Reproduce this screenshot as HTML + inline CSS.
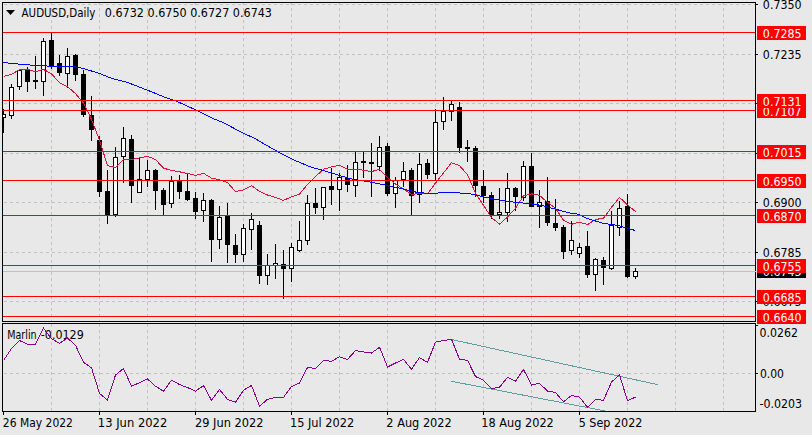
<!DOCTYPE html>
<html><head><meta charset="utf-8"><title>AUDUSD,Daily</title>
<style>
html,body{margin:0;padding:0;background:#e8e8e8;}
body{width:812px;height:435px;overflow:hidden;}
</style></head>
<body>
<svg width="812" height="435" viewBox="0 0 812 435" style="display:block" font-family="'DejaVu Sans', 'Liberation Sans', sans-serif" font-size="12px">
<rect x="0" y="0" width="812" height="435" fill="#e8e8e8"/>
<defs><clipPath id="cm"><rect x="3" y="3" width="752" height="318"/></clipPath><clipPath id="cs"><rect x="3" y="324" width="752" height="87"/></clipPath></defs>
<g shape-rendering="crispEdges" stroke="#c2c2c2" stroke-width="1" stroke-dasharray="3 3" fill="none">
<line x1="4" y1="4.5" x2="755" y2="4.5"/>
<line x1="4" y1="54.5" x2="755" y2="54.5"/>
<line x1="4" y1="103.5" x2="755" y2="103.5"/>
<line x1="4" y1="153.5" x2="755" y2="153.5"/>
<line x1="4" y1="202.5" x2="755" y2="202.5"/>
<line x1="4" y1="252.5" x2="755" y2="252.5"/>
<line x1="4" y1="301.5" x2="755" y2="301.5"/>
<line x1="51.5" y1="2" x2="51.5" y2="321"/>
<line x1="99.5" y1="2" x2="99.5" y2="321"/>
<line x1="147.5" y1="2" x2="147.5" y2="321"/>
<line x1="195.5" y1="2" x2="195.5" y2="321"/>
<line x1="243.5" y1="2" x2="243.5" y2="321"/>
<line x1="291.5" y1="2" x2="291.5" y2="321"/>
<line x1="339.5" y1="2" x2="339.5" y2="321"/>
<line x1="387.5" y1="2" x2="387.5" y2="321"/>
<line x1="435.5" y1="2" x2="435.5" y2="321"/>
<line x1="483.5" y1="2" x2="483.5" y2="321"/>
<line x1="531.5" y1="2" x2="531.5" y2="321"/>
<line x1="579.5" y1="2" x2="579.5" y2="321"/>
<line x1="627.5" y1="2" x2="627.5" y2="321"/>
<line x1="675.5" y1="2" x2="675.5" y2="321"/>
<line x1="723.5" y1="2" x2="723.5" y2="321"/>
<line x1="4" y1="373.5" x2="755" y2="373.5"/>
<line x1="51.5" y1="324" x2="51.5" y2="411"/>
<line x1="99.5" y1="324" x2="99.5" y2="411"/>
<line x1="147.5" y1="324" x2="147.5" y2="411"/>
<line x1="195.5" y1="324" x2="195.5" y2="411"/>
<line x1="243.5" y1="324" x2="243.5" y2="411"/>
<line x1="291.5" y1="324" x2="291.5" y2="411"/>
<line x1="339.5" y1="324" x2="339.5" y2="411"/>
<line x1="387.5" y1="324" x2="387.5" y2="411"/>
<line x1="435.5" y1="324" x2="435.5" y2="411"/>
<line x1="483.5" y1="324" x2="483.5" y2="411"/>
<line x1="531.5" y1="324" x2="531.5" y2="411"/>
<line x1="579.5" y1="324" x2="579.5" y2="411"/>
<line x1="627.5" y1="324" x2="627.5" y2="411"/>
<line x1="675.5" y1="324" x2="675.5" y2="411"/>
<line x1="723.5" y1="324" x2="723.5" y2="411"/>
</g>
<rect x="3" y="271" width="752" height="1" fill="#c0c0c0"/>
<g clip-path="url(#cm)" shape-rendering="crispEdges">
<rect x="3" y="109" width="1" height="24" fill="#000"/>
<rect x="1" y="114" width="5" height="4" fill="#000"/>
<rect x="2" y="115" width="3" height="2" fill="#fff"/>
<rect x="11" y="84" width="1" height="35" fill="#000"/>
<rect x="9" y="87" width="5" height="29" fill="#000"/>
<rect x="10" y="88" width="3" height="27" fill="#fff"/>
<rect x="19" y="69" width="1" height="21" fill="#000"/>
<rect x="17" y="70" width="5" height="17" fill="#000"/>
<rect x="18" y="71" width="3" height="15" fill="#fff"/>
<rect x="27" y="67" width="1" height="25" fill="#000"/>
<rect x="25" y="70" width="5" height="12" fill="#000"/>
<rect x="35" y="56" width="1" height="33" fill="#000"/>
<rect x="33" y="80" width="5" height="2" fill="#000"/>
<rect x="43" y="38" width="1" height="58" fill="#000"/>
<rect x="41" y="41" width="5" height="41" fill="#000"/>
<rect x="42" y="42" width="3" height="39" fill="#fff"/>
<rect x="51" y="33" width="1" height="36" fill="#000"/>
<rect x="49" y="40" width="5" height="27" fill="#000"/>
<rect x="59" y="55" width="1" height="21" fill="#000"/>
<rect x="57" y="63" width="5" height="10" fill="#000"/>
<rect x="67" y="48" width="1" height="40" fill="#000"/>
<rect x="65" y="56" width="5" height="18" fill="#000"/>
<rect x="66" y="57" width="3" height="16" fill="#fff"/>
<rect x="75" y="54" width="1" height="27" fill="#000"/>
<rect x="73" y="55" width="5" height="20" fill="#000"/>
<rect x="83" y="70" width="1" height="47" fill="#000"/>
<rect x="81" y="74" width="5" height="41" fill="#000"/>
<rect x="91" y="96" width="1" height="45" fill="#000"/>
<rect x="89" y="115" width="5" height="15" fill="#000"/>
<rect x="99" y="136" width="1" height="61" fill="#000"/>
<rect x="97" y="140" width="5" height="52" fill="#000"/>
<rect x="107" y="170" width="1" height="54" fill="#000"/>
<rect x="105" y="191" width="5" height="24" fill="#000"/>
<rect x="115" y="147" width="1" height="70" fill="#000"/>
<rect x="113" y="157" width="5" height="58" fill="#000"/>
<rect x="114" y="158" width="3" height="56" fill="#fff"/>
<rect x="123" y="127" width="1" height="56" fill="#000"/>
<rect x="121" y="138" width="5" height="19" fill="#000"/>
<rect x="122" y="139" width="3" height="17" fill="#fff"/>
<rect x="131" y="135" width="1" height="68" fill="#000"/>
<rect x="129" y="139" width="5" height="47" fill="#000"/>
<rect x="139" y="158" width="1" height="35" fill="#000"/>
<rect x="137" y="179" width="5" height="14" fill="#000"/>
<rect x="138" y="180" width="3" height="12" fill="#fff"/>
<rect x="147" y="160" width="1" height="27" fill="#000"/>
<rect x="145" y="170" width="5" height="10" fill="#000"/>
<rect x="146" y="171" width="3" height="8" fill="#fff"/>
<rect x="155" y="169" width="1" height="41" fill="#000"/>
<rect x="153" y="170" width="5" height="21" fill="#000"/>
<rect x="163" y="188" width="1" height="28" fill="#000"/>
<rect x="161" y="190" width="5" height="15" fill="#000"/>
<rect x="171" y="176" width="1" height="32" fill="#000"/>
<rect x="169" y="181" width="5" height="23" fill="#000"/>
<rect x="170" y="182" width="3" height="21" fill="#fff"/>
<rect x="179" y="175" width="1" height="24" fill="#000"/>
<rect x="177" y="181" width="5" height="11" fill="#000"/>
<rect x="187" y="174" width="1" height="27" fill="#000"/>
<rect x="185" y="191" width="5" height="9" fill="#000"/>
<rect x="195" y="192" width="1" height="27" fill="#000"/>
<rect x="193" y="198" width="5" height="14" fill="#000"/>
<rect x="203" y="193" width="1" height="29" fill="#000"/>
<rect x="201" y="200" width="5" height="11" fill="#000"/>
<rect x="202" y="201" width="3" height="9" fill="#fff"/>
<rect x="211" y="199" width="1" height="63" fill="#000"/>
<rect x="209" y="200" width="5" height="40" fill="#000"/>
<rect x="219" y="206" width="1" height="43" fill="#000"/>
<rect x="217" y="217" width="5" height="23" fill="#000"/>
<rect x="218" y="218" width="3" height="21" fill="#fff"/>
<rect x="227" y="203" width="1" height="60" fill="#000"/>
<rect x="225" y="216" width="5" height="29" fill="#000"/>
<rect x="235" y="234" width="1" height="29" fill="#000"/>
<rect x="233" y="245" width="5" height="10" fill="#000"/>
<rect x="243" y="224" width="1" height="38" fill="#000"/>
<rect x="241" y="228" width="5" height="27" fill="#000"/>
<rect x="242" y="229" width="3" height="25" fill="#fff"/>
<rect x="251" y="213" width="1" height="37" fill="#000"/>
<rect x="249" y="219" width="5" height="11" fill="#000"/>
<rect x="250" y="220" width="3" height="9" fill="#fff"/>
<rect x="259" y="221" width="1" height="63" fill="#000"/>
<rect x="257" y="225" width="5" height="51" fill="#000"/>
<rect x="267" y="254" width="1" height="31" fill="#000"/>
<rect x="265" y="265" width="5" height="11" fill="#000"/>
<rect x="266" y="266" width="3" height="9" fill="#fff"/>
<rect x="275" y="244" width="1" height="35" fill="#000"/>
<rect x="273" y="263" width="5" height="3" fill="#000"/>
<rect x="274" y="264" width="3" height="1" fill="#fff"/>
<rect x="283" y="250" width="1" height="49" fill="#000"/>
<rect x="281" y="264" width="5" height="5" fill="#000"/>
<rect x="291" y="243" width="1" height="39" fill="#000"/>
<rect x="289" y="247" width="5" height="22" fill="#000"/>
<rect x="290" y="248" width="3" height="20" fill="#fff"/>
<rect x="299" y="221" width="1" height="31" fill="#000"/>
<rect x="297" y="240" width="5" height="11" fill="#000"/>
<rect x="298" y="241" width="3" height="9" fill="#fff"/>
<rect x="307" y="195" width="1" height="50" fill="#000"/>
<rect x="305" y="203" width="5" height="38" fill="#000"/>
<rect x="306" y="204" width="3" height="36" fill="#fff"/>
<rect x="315" y="188" width="1" height="26" fill="#000"/>
<rect x="313" y="203" width="5" height="5" fill="#000"/>
<rect x="323" y="187" width="1" height="33" fill="#000"/>
<rect x="321" y="187" width="5" height="21" fill="#000"/>
<rect x="322" y="188" width="3" height="19" fill="#fff"/>
<rect x="331" y="168" width="1" height="37" fill="#000"/>
<rect x="329" y="186" width="5" height="4" fill="#000"/>
<rect x="339" y="173" width="1" height="38" fill="#000"/>
<rect x="337" y="177" width="5" height="13" fill="#000"/>
<rect x="338" y="178" width="3" height="11" fill="#fff"/>
<rect x="347" y="165" width="1" height="27" fill="#000"/>
<rect x="345" y="178" width="5" height="7" fill="#000"/>
<rect x="355" y="152" width="1" height="45" fill="#000"/>
<rect x="353" y="162" width="5" height="24" fill="#000"/>
<rect x="354" y="163" width="3" height="22" fill="#fff"/>
<rect x="363" y="152" width="1" height="26" fill="#000"/>
<rect x="361" y="161" width="5" height="2" fill="#000"/>
<rect x="371" y="143" width="1" height="54" fill="#000"/>
<rect x="369" y="162" width="5" height="2" fill="#000"/>
<rect x="379" y="136" width="1" height="35" fill="#000"/>
<rect x="377" y="147" width="5" height="20" fill="#000"/>
<rect x="378" y="148" width="3" height="18" fill="#fff"/>
<rect x="387" y="143" width="1" height="53" fill="#000"/>
<rect x="385" y="146" width="5" height="48" fill="#000"/>
<rect x="395" y="177" width="1" height="31" fill="#000"/>
<rect x="393" y="180" width="5" height="14" fill="#000"/>
<rect x="394" y="181" width="3" height="12" fill="#fff"/>
<rect x="403" y="162" width="1" height="25" fill="#000"/>
<rect x="401" y="171" width="5" height="9" fill="#000"/>
<rect x="402" y="172" width="3" height="7" fill="#fff"/>
<rect x="411" y="168" width="1" height="47" fill="#000"/>
<rect x="409" y="170" width="5" height="26" fill="#000"/>
<rect x="419" y="153" width="1" height="50" fill="#000"/>
<rect x="417" y="164" width="5" height="31" fill="#000"/>
<rect x="418" y="165" width="3" height="29" fill="#fff"/>
<rect x="427" y="159" width="1" height="20" fill="#000"/>
<rect x="425" y="163" width="5" height="12" fill="#000"/>
<rect x="435" y="109" width="1" height="72" fill="#000"/>
<rect x="433" y="122" width="5" height="52" fill="#000"/>
<rect x="434" y="123" width="3" height="50" fill="#fff"/>
<rect x="443" y="97" width="1" height="33" fill="#000"/>
<rect x="441" y="111" width="5" height="11" fill="#000"/>
<rect x="442" y="112" width="3" height="9" fill="#fff"/>
<rect x="451" y="101" width="1" height="20" fill="#000"/>
<rect x="449" y="104" width="5" height="8" fill="#000"/>
<rect x="450" y="105" width="3" height="6" fill="#fff"/>
<rect x="459" y="102" width="1" height="51" fill="#000"/>
<rect x="457" y="107" width="5" height="41" fill="#000"/>
<rect x="467" y="140" width="1" height="22" fill="#000"/>
<rect x="465" y="147" width="5" height="2" fill="#000"/>
<rect x="475" y="146" width="1" height="51" fill="#000"/>
<rect x="473" y="148" width="5" height="38" fill="#000"/>
<rect x="483" y="170" width="1" height="33" fill="#000"/>
<rect x="481" y="186" width="5" height="10" fill="#000"/>
<rect x="491" y="192" width="1" height="27" fill="#000"/>
<rect x="489" y="195" width="5" height="20" fill="#000"/>
<rect x="499" y="188" width="1" height="31" fill="#000"/>
<rect x="497" y="212" width="5" height="3" fill="#000"/>
<rect x="498" y="213" width="3" height="1" fill="#fff"/>
<rect x="507" y="173" width="1" height="49" fill="#000"/>
<rect x="505" y="188" width="5" height="25" fill="#000"/>
<rect x="506" y="189" width="3" height="23" fill="#fff"/>
<rect x="515" y="187" width="1" height="24" fill="#000"/>
<rect x="513" y="188" width="5" height="9" fill="#000"/>
<rect x="523" y="161" width="1" height="40" fill="#000"/>
<rect x="521" y="166" width="5" height="32" fill="#000"/>
<rect x="522" y="167" width="3" height="30" fill="#fff"/>
<rect x="531" y="153" width="1" height="54" fill="#000"/>
<rect x="529" y="166" width="5" height="41" fill="#000"/>
<rect x="539" y="190" width="1" height="38" fill="#000"/>
<rect x="537" y="202" width="5" height="5" fill="#000"/>
<rect x="538" y="203" width="3" height="3" fill="#fff"/>
<rect x="547" y="177" width="1" height="49" fill="#000"/>
<rect x="545" y="201" width="5" height="22" fill="#000"/>
<rect x="555" y="199" width="1" height="32" fill="#000"/>
<rect x="553" y="223" width="5" height="5" fill="#000"/>
<rect x="563" y="225" width="1" height="34" fill="#000"/>
<rect x="561" y="227" width="5" height="25" fill="#000"/>
<rect x="571" y="221" width="1" height="34" fill="#000"/>
<rect x="569" y="240" width="5" height="11" fill="#000"/>
<rect x="570" y="241" width="3" height="9" fill="#fff"/>
<rect x="579" y="243" width="1" height="15" fill="#000"/>
<rect x="577" y="247" width="5" height="7" fill="#000"/>
<rect x="578" y="248" width="3" height="5" fill="#fff"/>
<rect x="587" y="231" width="1" height="47" fill="#000"/>
<rect x="585" y="246" width="5" height="29" fill="#000"/>
<rect x="595" y="258" width="1" height="33" fill="#000"/>
<rect x="593" y="259" width="5" height="16" fill="#000"/>
<rect x="594" y="260" width="3" height="14" fill="#fff"/>
<rect x="603" y="257" width="1" height="28" fill="#000"/>
<rect x="601" y="260" width="5" height="8" fill="#000"/>
<rect x="611" y="211" width="1" height="59" fill="#000"/>
<rect x="609" y="225" width="5" height="44" fill="#000"/>
<rect x="610" y="226" width="3" height="42" fill="#fff"/>
<rect x="619" y="201" width="1" height="35" fill="#000"/>
<rect x="617" y="208" width="5" height="20" fill="#000"/>
<rect x="618" y="209" width="3" height="18" fill="#fff"/>
<rect x="627" y="194" width="1" height="84" fill="#000"/>
<rect x="625" y="206" width="5" height="71" fill="#000"/>
<rect x="635" y="268" width="1" height="11" fill="#000"/>
<rect x="633" y="271" width="5" height="6" fill="#000"/>
<rect x="634" y="272" width="3" height="4" fill="#fff"/>
</g>
<g clip-path="url(#cm)" fill="none" stroke-width="1" shape-rendering="crispEdges">
<polyline points="3.5,76.3 11.5,74.3 19.5,69.6 27.5,69.4 35.5,71.7 43.5,69.4 51.5,73.8 59.5,82.7 67.5,86.7 75.5,93.6 83.5,103 91.5,119.5 99.5,140 107.5,165.8 115.5,167.4 123.5,159.5 131.5,159.5 139.5,157.9 147.5,156.3 155.5,159.5 163.5,168.2 171.5,170.3 179.5,171.8 187.5,173.5 195.5,175.3 203.5,173.3 211.5,178.1 219.5,179.8 227.5,182.6 235.5,191.5 243.5,190 251.5,185.6 259.5,191.5 267.5,195 275.5,197.5 283.5,200.4 291.5,196.8 299.5,194 307.5,184.4 315.5,176.5 323.5,169.3 331.5,166.8 339.5,165.3 347.5,169.3 355.5,169.5 363.5,170.1 371.5,171.6 379.5,169.3 387.5,177.6 395.5,184 403.5,189 411.5,194.4 419.5,193.4 427.5,193.8 435.5,183 443.5,172.9 451.5,162.7 459.5,165.7 467.5,174.6 475.5,193.4 483.5,205.3 491.5,217.5 499.5,224.1 507.5,217.1 515.5,208.2 523.5,195.8 531.5,193.8 539.5,195.4 547.5,202.3 555.5,208.2 563.5,220.1 571.5,224.3 579.5,222.1 587.5,224.6 595.5,219.5 603.5,218.2 611.5,207.3 619.5,197.4 627.5,204.8 635.5,211.6" stroke="#dc143c"/>
<polyline points="3.5,62.2 10.5,63.5 24.5,64.5 33.5,65.4 55.5,66.4 75.5,66.9 83.4,68.5 99.2,73.4 111.1,78.2 126.9,82.2 150.5,91.4 167.1,98.2 175.3,100.7 196,110 212.5,118.3 222.9,122.4 243.6,133.4 254,138 278.8,152.4 293.3,159.7 310.4,166.9 326.1,171.3 349.8,178.6 369.6,181.9 385.4,185.1 401.3,188.5 417.1,192.4 429,193.4 452.4,192.4 470.2,193.8 489.9,198.3 509.7,201.7 529.5,203.7 543.3,205.7 559.2,210.2 570.5,213.2 578.4,214.2 586.3,218.2 595.2,220.9 603.1,223.4 611.1,224.4 618,225.4 625.9,227.8 634.8,230.4" stroke="#0000ff"/>
</g>
<g shape-rendering="crispEdges">
<rect x="3" y="32" width="752" height="1" fill="#ff0000"/>
<rect x="3" y="110" width="752" height="1" fill="#ff0000"/>
<rect x="3" y="100" width="752" height="1" fill="#ff0000"/>
<rect x="3" y="151" width="752" height="1" fill="#ff0000"/>
<rect x="3" y="180" width="752" height="1" fill="#ff0000"/>
<rect x="3" y="215" width="752" height="1" fill="#ff0000"/>
<rect x="3" y="265" width="752" height="1" fill="#ff0000"/>
<rect x="3" y="296" width="752" height="1" fill="#ff0000"/>
<rect x="3" y="316" width="752" height="1" fill="#ff0000"/>
</g>
<g shape-rendering="crispEdges">
<rect x="2" y="2" width="754" height="1" fill="#000"/>
<rect x="2" y="321" width="754" height="1" fill="#000"/>
<rect x="2" y="2" width="1" height="320" fill="#000"/>
<rect x="755" y="2" width="1" height="320" fill="#000"/>
<rect x="2" y="323" width="754" height="1" fill="#000"/>
<rect x="2" y="411" width="754" height="1" fill="#000"/>
<rect x="2" y="323" width="1" height="89" fill="#000"/>
<rect x="755" y="323" width="1" height="89" fill="#000"/>
<rect x="755" y="271" width="1" height="1" fill="#c0c0c0"/>
<rect x="756" y="4" width="2" height="1" fill="#000"/>
<rect x="756" y="54" width="2" height="1" fill="#000"/>
<rect x="756" y="103" width="2" height="1" fill="#000"/>
<rect x="756" y="153" width="2" height="1" fill="#000"/>
<rect x="756" y="202" width="2" height="1" fill="#000"/>
<rect x="756" y="252" width="2" height="1" fill="#000"/>
<rect x="756" y="301" width="2" height="1" fill="#000"/>
<rect x="756" y="373" width="2" height="1" fill="#000"/>
<rect x="756" y="325" width="2" height="1" fill="#000"/>
<rect x="3" y="412" width="1" height="3" fill="#000"/>
<rect x="99" y="412" width="1" height="3" fill="#000"/>
<rect x="195" y="412" width="1" height="3" fill="#000"/>
<rect x="291" y="412" width="1" height="3" fill="#000"/>
<rect x="387" y="412" width="1" height="3" fill="#000"/>
<rect x="483" y="412" width="1" height="3" fill="#000"/>
<rect x="579" y="412" width="1" height="3" fill="#000"/>
</g>
<text x="762.85" y="9" fill="#000" textLength="38.70" lengthAdjust="spacingAndGlyphs">0.7350</text>
<text x="762.85" y="59" fill="#000" textLength="38.70" lengthAdjust="spacingAndGlyphs">0.7235</text>
<text x="762.85" y="108" fill="#000" textLength="38.70" lengthAdjust="spacingAndGlyphs">0.7124</text>
<text x="762.85" y="158" fill="#000" textLength="38.70" lengthAdjust="spacingAndGlyphs">0.7011</text>
<text x="762.85" y="207" fill="#000" textLength="38.70" lengthAdjust="spacingAndGlyphs">0.6900</text>
<text x="762.85" y="257" fill="#000" textLength="38.70" lengthAdjust="spacingAndGlyphs">0.6785</text>
<text x="762.85" y="306" fill="#000" textLength="38.70" lengthAdjust="spacingAndGlyphs">0.6675</text>
<rect x="757" y="264" width="49" height="14" fill="#000"/>
<text x="762.85" y="276" fill="#fff" textLength="38.70" lengthAdjust="spacingAndGlyphs">0.6743</text>
<rect x="757" y="26" width="49" height="14" fill="#ff0000"/>
<text x="762.85" y="38" fill="#fff" textLength="38.70" lengthAdjust="spacingAndGlyphs">0.7285</text>
<rect x="757" y="104" width="49" height="14" fill="#ff0000"/>
<text x="762.85" y="116" fill="#fff" textLength="38.70" lengthAdjust="spacingAndGlyphs">0.7107</text>
<rect x="757" y="94" width="49" height="14" fill="#ff0000"/>
<text x="762.85" y="106" fill="#fff" textLength="38.70" lengthAdjust="spacingAndGlyphs">0.7131</text>
<rect x="757" y="145" width="49" height="14" fill="#ff0000"/>
<text x="762.85" y="157" fill="#fff" textLength="38.70" lengthAdjust="spacingAndGlyphs">0.7015</text>
<rect x="757" y="174" width="49" height="14" fill="#ff0000"/>
<text x="762.85" y="186" fill="#fff" textLength="38.70" lengthAdjust="spacingAndGlyphs">0.6950</text>
<rect x="757" y="209" width="49" height="14" fill="#ff0000"/>
<text x="762.85" y="221" fill="#fff" textLength="38.70" lengthAdjust="spacingAndGlyphs">0.6870</text>
<rect x="757" y="259" width="49" height="14" fill="#ff0000"/>
<text x="762.85" y="271" fill="#fff" textLength="38.70" lengthAdjust="spacingAndGlyphs">0.6755</text>
<rect x="757" y="290" width="49" height="14" fill="#ff0000"/>
<text x="762.85" y="302" fill="#fff" textLength="38.70" lengthAdjust="spacingAndGlyphs">0.6685</text>
<rect x="757" y="310" width="49" height="14" fill="#ff0000"/>
<text x="762.85" y="322" fill="#fff" textLength="38.70" lengthAdjust="spacingAndGlyphs">0.6640</text>
<text x="7.30" y="339" fill="#000" textLength="29.32" lengthAdjust="spacingAndGlyphs">Marlin</text>
<text x="40.80" y="339" fill="#000" textLength="43.00" lengthAdjust="spacingAndGlyphs">-0.0129</text>
<g clip-path="url(#cs)" fill="none" stroke-width="1" shape-rendering="crispEdges">
<line x1="451" y1="339.4" x2="658.4" y2="384.8" stroke="#5f9ea0"/>
<line x1="451" y1="381.2" x2="610" y2="411.9" stroke="#5f9ea0"/>
<polyline points="3.5,360.5 11.5,348.5 19.5,340.5 27.5,344.3 35.5,344.3 43.5,328.2 51.5,338.8 59.5,343.3 67.5,338 75.5,345.3 83.5,362.3 91.5,367.8 99.5,393.4 107.5,400 115.5,375 123.5,368.5 131.5,386.1 139.5,382.7 147.5,379 155.5,386.2 163.5,391.2 171.5,380.2 179.5,384.5 187.5,387.6 195.5,391.2 203.5,385.5 211.5,400.3 219.5,389.5 227.5,399.3 235.5,402.3 243.5,390.1 251.5,385.5 259.5,406.2 267.5,399.3 275.5,397.4 283.5,397.4 291.5,386.5 299.5,383 307.5,367.5 315.5,368.5 323.5,360.5 331.5,361.3 339.5,356.8 347.5,359.4 355.5,350.6 363.5,352 371.5,353.1 379.5,347.2 387.5,367 395.5,363 403.5,359.4 411.5,369.3 419.5,357.5 427.5,362.4 435.5,342.2 443.5,340.5 451.5,339.3 459.5,359.2 467.5,360.3 475.5,376.5 483.5,380.3 491.5,388.6 499.5,387.3 507.5,377.2 515.5,381.1 523.5,369.5 531.5,385 539.5,383.3 547.5,391.1 555.5,392.5 563.5,401.8 571.5,395.5 579.5,397.2 587.5,407.2 595.5,399.5 603.5,400.3 611.5,382.1 619.5,374.7 627.5,400.9 635.5,397" stroke="#8b008b"/>
</g>
<text x="759.55" y="337" fill="#000" textLength="38.40" lengthAdjust="spacingAndGlyphs">0.0262</text>
<text x="759.95" y="378" fill="#000" textLength="24.06" lengthAdjust="spacingAndGlyphs">0.00</text>
<text x="759.55" y="408" fill="#000" textLength="42.60" lengthAdjust="spacingAndGlyphs">-0.0203</text>
<path d="M6 10 L15 10 L10.5 15 Z" fill="#000"/>
<text x="21.55" y="17" fill="#000" textLength="73.91" lengthAdjust="spacingAndGlyphs">AUDUSD,Daily</text>
<text x="104.85" y="17" fill="#000" textLength="167.15" lengthAdjust="spacingAndGlyphs">0.6732 0.6750 0.6727 0.6743</text>
<text x="2.85" y="427" fill="#000" textLength="70.11" lengthAdjust="spacingAndGlyphs">26 May 2022</text>
<text x="97.85" y="427" fill="#000" textLength="69.47" lengthAdjust="spacingAndGlyphs">13 Jun 2022</text>
<text x="194.95" y="427" fill="#000" textLength="68.56" lengthAdjust="spacingAndGlyphs">29 Jun 2022</text>
<text x="289.95" y="427" fill="#000" textLength="64.32" lengthAdjust="spacingAndGlyphs">15 Jul 2022</text>
<text x="386.35" y="427" fill="#000" textLength="65.39" lengthAdjust="spacingAndGlyphs">2 Aug 2022</text>
<text x="481.35" y="427" fill="#000" textLength="72.45" lengthAdjust="spacingAndGlyphs">18 Aug 2022</text>
<text x="578.65" y="427" fill="#000" textLength="63.85" lengthAdjust="spacingAndGlyphs">5 Sep 2022</text>
</svg>
</body></html>
